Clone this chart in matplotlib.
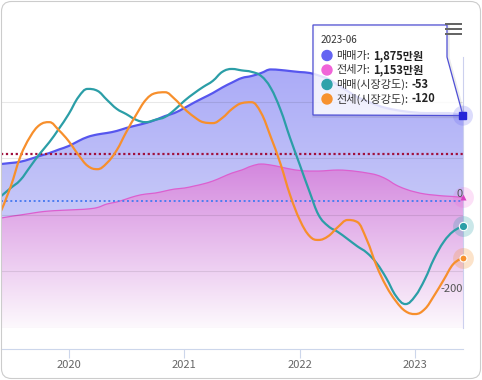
import numpy as np
import pandas as pd
import matplotlib
matplotlib.use('Agg')
import matplotlib.pyplot as plt
import matplotlib.dates as mdates
from matplotlib.colors import to_rgba
from matplotlib.path import Path
from matplotlib.patches import Polygon, FancyBboxPatch, Circle, Rectangle, PathPatch
from matplotlib.text import Annotation
from matplotlib.transforms import IdentityTransform, blended_transform_factory

plt.rcParams['font.family'] = ['Noto Sans CJK KR', 'DejaVu Sans']

# 월별 데이터 (2019-06 ~ 2023-06)
months = pd.date_range('2019-06-01', '2023-06-01', freq='MS')
sale_price = [1448, 1457, 1468, 1492, 1519, 1545, 1576, 1607, 1651, 1687, 1709, 1722,
              1740, 1766, 1788, 1810, 1837, 1872, 1899, 1943, 1991, 2031, 2075, 2124,
              2168, 2207, 2225, 2252, 2283, 2278, 2269, 2260, 2252, 2230, 2199, 2146,
              2093, 2040, 2004, 1969, 1943, 1925, 1912, 1903, 1898, 1898, 1898, 1894, 1875]
jeonse_price = [971, 985, 998, 1011, 1024, 1033, 1038, 1042, 1046, 1051, 1064, 1095,
                1113, 1139, 1166, 1183, 1192, 1210, 1227, 1236, 1254, 1272, 1298, 1333,
                1369, 1395, 1430, 1448, 1439, 1422, 1404, 1391, 1386, 1386, 1391, 1395,
                1391, 1382, 1369, 1351, 1316, 1263, 1227, 1201, 1183, 1174, 1166, 1161, 1153]
sale_strength = [10, 27, 44, 72, 99, 124, 152, 183, 219, 236, 232, 213,
                 194, 183, 171, 166, 171, 177, 192, 211, 227, 240, 253, 272,
                 278, 275, 272, 263, 238, 192, 133, 76, 19, -29, -53, -65,
                 -80, -95, -109, -131, -162, -200, -217, -200, -164, -122, -86, -64, -53]
jeonse_strength = [-21, 29, 93, 135, 160, 166, 149, 126, 97, 74, 67, 80,
                   107, 145, 181, 213, 227, 229, 215, 194, 177, 166, 164, 175,
                   194, 206, 208, 185, 135, 78, 13, -40, -74, -82, -74, -55,
                   -40, -44, -82, -137, -179, -211, -232, -238, -227, -200, -166, -133, -120]

price_grid = [0, 500, 1000, 1500, 2000]
strength_lines = [100, 0]
strength_labels = [0, -200]
year_ticks = ['2020', '2021', '2022', '2023']

tooltip_title = '2023-06'
tooltip_rows = [('매매가:', '1,875만원', '#6464f2'),
                ('전세가:', '1,153만원', '#f064d8'),
                ('매매(시장강도):', '-53', '#2ea2aa'),
                ('전세(시장강도):', '-120', '#f7922e')]

W, H = 482, 380
PX = IdentityTransform()


def P(x, y):
    return (x, H - y)


def spline_verts(xs, ys, sm=1.5):
    # highcharts 식 스플라인 제어점
    n = len(xs)
    d = sm + 1
    lc, rc = [None] * n, [None] * n
    for i in range(n):
        if i == 0 or i == n - 1:
            lc[i] = rc[i] = (xs[i], ys[i])
            continue
        y = ys[i]
        lx = (sm * xs[i] + xs[i - 1]) / d
        ly = (sm * y + ys[i - 1]) / d
        rx = (sm * xs[i] + xs[i + 1]) / d
        ry = (sm * y + ys[i + 1]) / d
        corr = (ry - ly) * (rx - xs[i]) / (rx - lx) + y - ry
        ly += corr
        ry += corr
        py, ny = ys[i - 1], ys[i + 1]
        if ly > py and ly > y:
            ly = max(py, y)
            ry = 2 * y - ly
        elif ly < py and ly < y:
            ly = min(py, y)
            ry = 2 * y - ly
        if ry > ny and ry > y:
            ry = max(ny, y)
            ly = 2 * y - ry
        elif ry < ny and ry < y:
            ry = min(ny, y)
            ly = 2 * y - ry
        lc[i] = (lx, ly)
        rc[i] = (rx, ry)
    verts = [(xs[0], ys[0])]
    codes = [Path.MOVETO]
    for i in range(1, n):
        verts += [rc[i - 1], lc[i], (xs[i], ys[i])]
        codes += [Path.CURVE4] * 3
    return verts, codes


def spline_line(ax, xs, ys, color, lw, zorder):
    verts, codes = spline_verts(xs, ys)
    ax.add_patch(PathPatch(Path(verts, codes), fill=False, edgecolor=color, lw=lw,
                           zorder=zorder, capstyle='round', joinstyle='round'))


def gradient_area(ax, xs, ys, c_top, c_bot, y_top, y_bot, zorder):
    verts, codes = spline_verts(xs, ys)
    verts = verts + [(xs[-1], 0), (xs[0], 0), (xs[0], 0)]
    codes = codes + [Path.LINETO, Path.LINETO, Path.CLOSEPOLY]
    clip = Path(verts, codes)
    t = np.linspace(0, 1, 256)[:, None]
    top, bot = np.array(to_rgba(c_top)), np.array(to_rgba(c_bot))
    grad = (top * (1 - t) + bot * t)[:, None, :]
    im = ax.imshow(grad, extent=[xs[0], xs[-1], y_bot, y_top], origin='upper',
                   aspect='auto', zorder=zorder, interpolation='bilinear')
    im.set_clip_path(clip, transform=ax.transData)


fig = plt.figure(figsize=(W / 100, H / 100), dpi=100)
fig.patch.set_facecolor('white')

# 플롯 영역: x 1~463, y 57~328 (px)
ax = fig.add_axes([1 / W, 1 - 328 / H, 462 / W, 271 / H])
ax2 = ax.twinx()

x = mdates.date2num(months)
left_lim = (0, 2393)
right_lim = (-267.4, 303.2)

gradient_area(ax, x, sale_price, '#a9a9f7', '#dcdff9', left_lim[1], 0, 1)
spline_line(ax, x, sale_price, '#5656ee', 1.6, 3)
gradient_area(ax, x, jeonse_price, '#d283dd', '#fdf9fd', 1500, 0, 2)
spline_line(ax, x, jeonse_price, '#dc5fcf', 0.9, 2.5)
for g in price_grid:
    ax.axhline(g, color='black', alpha=0.09, lw=0.8, zorder=2.6)

ax.set_xlim(x[0], x[-1])
ax.set_ylim(*left_lim)
ax.set_yticks([])

for s in ['top', 'left', 'right']:
    ax.spines[s].set_visible(False)
ax.spines['bottom'].set_position(('outward', 15))
ax.spines['bottom'].set_color('#ccd6eb')
ax.spines['bottom'].set_linewidth(0.8)
year_pos = [mdates.date2num(pd.Timestamp(y + '-01-01')) for y in year_ticks]
ax.set_xticks(year_pos)
ax.set_xticklabels(year_ticks)
ax.tick_params(axis='x', direction='out', length=6.5, width=0.8, color='#ccd6eb',
               labelsize=8, labelcolor='#666666', pad=1.5)

# 시장강도 (오른쪽 축)
ax2.axhline(strength_lines[0], color='#a0103c', lw=1.6, ls=(0, (1, 1.2)), zorder=1)
ax2.axhline(strength_lines[1], color='#4d7ef0', lw=1.4, ls=(0, (1, 1.4)), zorder=1)
spline_line(ax2, x, sale_strength, '#2b9ea7', 1.6, 2)
spline_line(ax2, x, jeonse_strength, '#f78f2c', 1.6, 2)
ax2.set_xlim(x[0], x[-1])
ax2.set_ylim(*right_lim)
ax2.set_yticks([])
for s in ['top', 'left', 'bottom']:
    ax2.spines[s].set_visible(False)
ax2.spines['right'].set_color('#ccd0ee')
ax2.spines['right'].set_linewidth(0.8)

tr = blended_transform_factory(ax2.transAxes, ax2.transData)
for v in strength_labels:
    ax2.text(1.0, v + 14.5, str(v), transform=tr, ha='right', va='center',
             fontsize=8, color='#555555', zorder=6)

# 마지막 포인트 마커 (hover)
ax2.plot(x[-1], jeonse_strength[-1], 'o', ms=15, color='#f7922e', alpha=0.25, mec='none',
         clip_on=False, zorder=4)
ax2.plot(x[-1], jeonse_strength[-1], 'o', ms=5, color='#f7922e', mec='white', mew=0.8,
         clip_on=False, zorder=5)
ax2.plot(x[-1], sale_strength[-1], 'o', ms=15, color='#2ea2aa', alpha=0.25, mec='none',
         clip_on=False, zorder=4)
ax2.plot(x[-1], sale_strength[-1], 'o', ms=6, color='#2b9ea7', mec='white', mew=0.8,
         clip_on=False, zorder=5)
jeonse_y = ax2.transData.inverted().transform(ax.transData.transform((x[-1], jeonse_price[-1])))[1]
ax2.plot(x[-1], jeonse_y, 'o', ms=15, color='#f064d8', alpha=0.2, mec='none',
         clip_on=False, zorder=4)
ax2.plot(x[-1], jeonse_y, '^', ms=5, color='#d940c0', mec='none',
         clip_on=False, zorder=5)

# 툴팁
shape = [P(313, 25), P(447, 25), P(447, 57), P(463, 115.5), P(313, 115)]
shadow = Polygon([(a + 1, b - 1) for a, b in shape], closed=True, transform=PX,
                 fc='none', ec=(0, 0, 0, 0.08), lw=2.5, zorder=9)
fig.add_artist(shadow)
box = Polygon(shape, closed=True, transform=PX, fc=(1, 1, 1, 0.82),
              ec='#4f4fd6', lw=0.9, zorder=10)
fig.add_artist(box)
fig.text(*P(321, 40), tooltip_title, transform=PX, fontsize=7.2, color='#333333',
         va='center', ha='left', zorder=11)
row_y = [55.5, 70, 84.5, 99]
for (lab, val, col), ry in zip(tooltip_rows, row_y):
    fig.add_artist(Circle(P(327, ry), 5, transform=PX, color=col, zorder=11))
    t1 = fig.text(*P(336, ry), lab, transform=PX, fontsize=8, color='#333333',
                  va='center', ha='left', zorder=11)
    a = Annotation(val, xy=(1, 0.5), xycoords=t1, xytext=(3, 0), textcoords='offset pixels',
                   va='center', ha='left', fontsize=8, fontweight='bold', color='#222222',
                   zorder=11)
    fig.add_artist(a)

# 매매가 마커는 툴팁 위에
mx, my = ax.transData.transform((x[-1], sale_price[-1]))
fig.add_artist(Circle((mx, my), 10, transform=PX, color='#6464f2', alpha=0.22, lw=0, zorder=12))
fig.add_artist(Rectangle((mx - 3.5, my - 3.5), 7, 7, transform=PX, color='#2626d8', zorder=12))

# 메뉴 아이콘
for by in [22.5, 27.7, 32.9]:
    fig.add_artist(Rectangle(P(445, by + 2.2), 17, 2.2, transform=PX, color='#666666',
                             lw=0, zorder=12))

# 카드 테두리
fig.add_artist(FancyBboxPatch((1.5, 1.5), 479, 377, boxstyle='round,pad=0,rounding_size=10',
                              transform=PX, fc='none', ec='#cccccc', lw=0.8, zorder=13))

fig.savefig('out.png', dpi=100)
